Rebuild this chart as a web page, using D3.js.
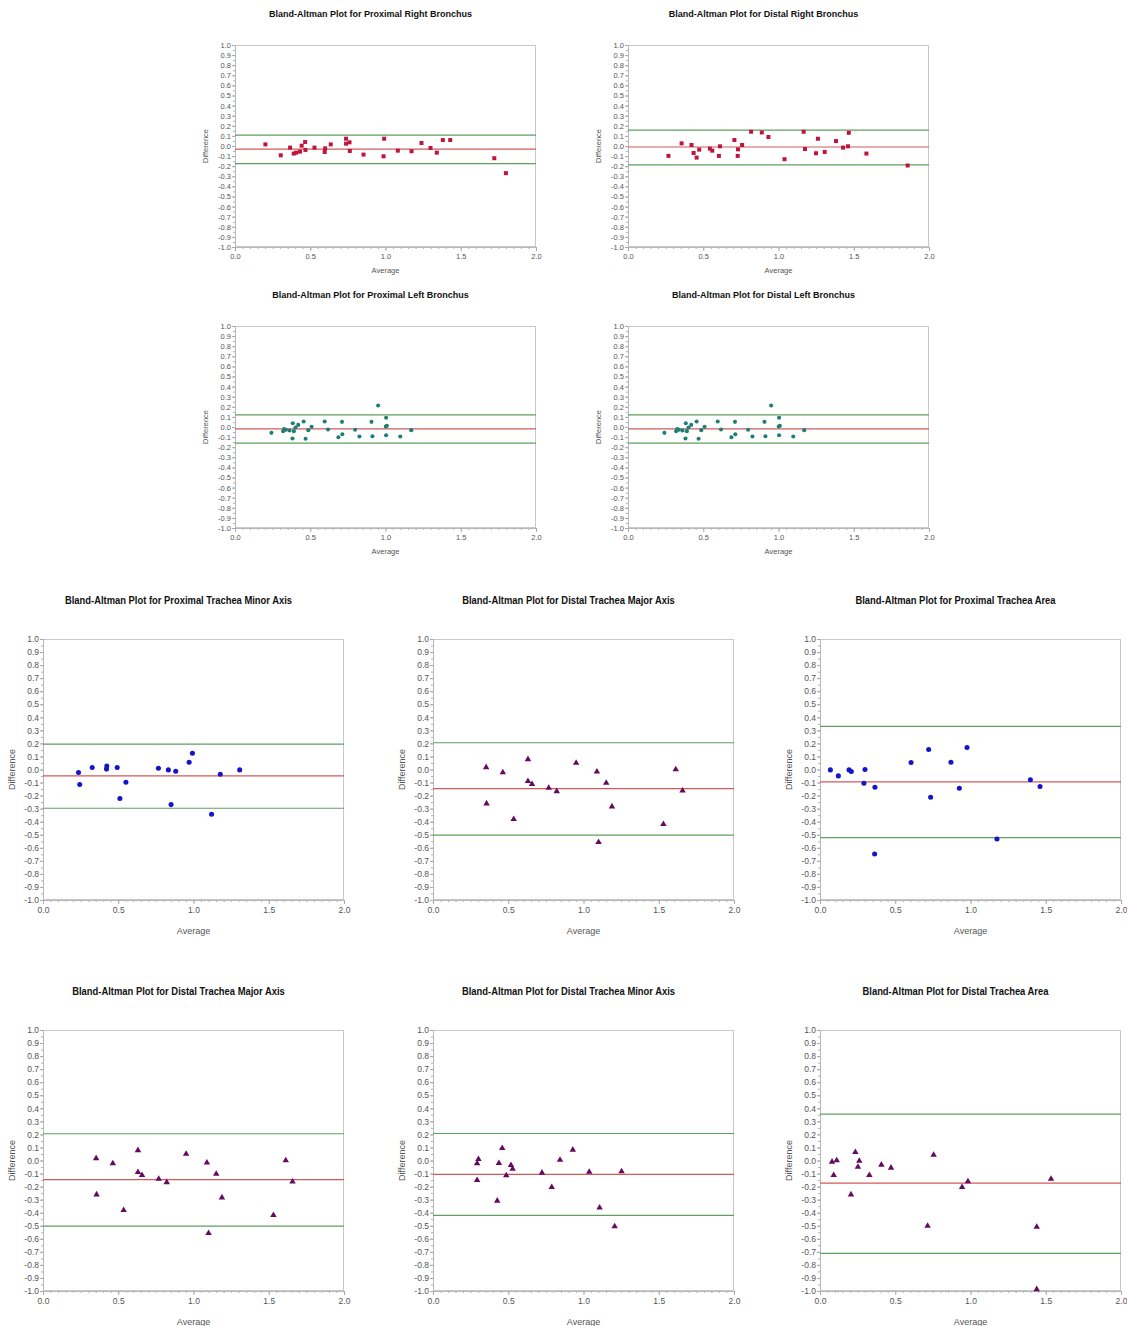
<!DOCTYPE html>
<html>
<head>
<meta charset="utf-8">
<script src="https://cdn.jsdelivr.net/npm/d3@7"></script>
<style>
  body { margin: 0; background: #fff; }
  svg { display: block; }
  text { font-family: "Liberation Sans", Arial, sans-serif; }
</style>
</head>
<body>
<svg id="chart" width="1127" height="1326"></svg>
<script>
// [average, difference] pairs
const proximalRightBronchus = [
  [0.202, 0.016], [0.304, -0.092], [0.366, -0.016], [0.390, -0.075], [0.406, -0.066],
  [0.432, -0.056], [0.443, 0.003], [0.466, 0.039], [0.468, -0.039], [0.528, -0.016],
  [0.596, -0.059], [0.599, -0.023], [0.636, 0.016], [0.738, 0.072], [0.738, 0.023],
  [0.761, 0.036], [0.763, -0.049], [0.854, -0.085], [0.991, 0.072], [0.987, -0.102],
  [1.082, -0.046], [1.173, -0.052], [1.239, 0.030], [1.299, -0.020], [1.341, -0.066],
  [1.381, 0.059], [1.430, 0.059], [1.723, -0.121], [1.800, -0.269]
];
const distalRightBronchus = [
  [0.269, -0.098], [0.356, 0.026], [0.422, 0.010], [0.436, -0.069], [0.456, -0.115],
  [0.473, -0.036], [0.544, -0.026], [0.560, -0.046], [0.604, -0.098], [0.611, -0.003],
  [0.707, 0.059], [0.729, -0.098], [0.731, -0.033], [0.758, 0.010], [0.818, 0.141],
  [0.889, 0.134], [0.933, 0.089], [1.040, -0.131], [1.167, 0.141], [1.176, -0.030],
  [1.249, -0.072], [1.262, 0.072], [1.307, -0.059], [1.382, 0.049], [1.429, -0.016],
  [1.462, -0.003], [1.467, 0.131], [1.584, -0.075], [1.858, -0.193]
];
const proximalLeftBronchus = [
  [0.242, -0.058], [0.320, -0.041], [0.327, -0.021], [0.338, -0.028], [0.362, -0.035],
  [0.384, 0.038], [0.382, -0.114], [0.391, -0.041], [0.402, -0.005], [0.420, 0.021],
  [0.456, 0.055], [0.469, -0.117], [0.487, -0.031], [0.509, 0.002], [0.596, 0.055],
  [0.618, -0.025], [0.687, -0.101], [0.711, 0.051], [0.713, -0.071], [0.798, -0.028],
  [0.827, -0.094], [0.907, 0.051], [0.913, -0.091], [0.951, 0.213], [1.004, 0.091],
  [1.002, 0.005], [1.009, 0.012], [1.004, -0.081], [1.098, -0.094], [1.171, -0.031]
];
// the distal left plot shows the same points as the proximal left one
const distalLeftBronchus = proximalLeftBronchus;
const proximalTracheaMinor = [
  [0.236, -0.023], [0.244, -0.115], [0.327, 0.015], [0.422, 0.003], [0.424, 0.026],
  [0.493, 0.015], [0.511, -0.223], [0.551, -0.097], [0.767, 0.010], [0.833, -0.003],
  [0.851, -0.269], [0.882, -0.013], [0.971, 0.056], [0.993, 0.125], [1.120, -0.343],
  [1.178, -0.036], [1.307, -0.003]
];
const distalTracheaMajor = [
  [0.353, 0.017], [0.356, -0.261], [0.464, -0.022], [0.536, -0.381], [0.631, 0.078],
  [0.631, -0.090], [0.658, -0.113], [0.769, -0.141], [0.822, -0.167], [0.951, 0.050],
  [1.089, -0.017], [1.100, -0.557], [1.151, -0.103], [1.189, -0.284], [1.531, -0.419],
  [1.613, 0.001], [1.658, -0.162]
];
const proximalTracheaArea = [
  [0.069, -0.003], [0.122, -0.049], [0.193, -0.003], [0.208, -0.015], [0.292, -0.105],
  [0.299, 0.000], [0.365, -0.136], [0.363, -0.647], [0.605, 0.054], [0.722, 0.153],
  [0.735, -0.212], [0.870, 0.056], [0.926, -0.143], [0.977, 0.169], [1.176, -0.532],
  [1.398, -0.079], [1.462, -0.130]
];
const distalTracheaMinor = [
  [0.293, -0.023], [0.302, 0.010], [0.293, -0.151], [0.427, -0.309], [0.438, -0.020],
  [0.460, 0.094], [0.487, -0.115], [0.518, -0.036], [0.529, -0.064], [0.724, -0.094],
  [0.789, -0.204], [0.844, 0.005], [0.929, 0.082], [1.038, -0.087], [1.107, -0.362],
  [1.207, -0.505], [1.253, -0.084]
];
const distalTracheaArea = [
  [0.080, -0.010], [0.091, -0.113], [0.111, 0.000], [0.206, -0.261], [0.235, 0.064],
  [0.252, -0.049], [0.261, -0.003], [0.328, -0.113], [0.408, -0.033], [0.472, -0.056],
  [0.715, -0.501], [0.755, 0.043], [0.944, -0.205], [0.983, -0.161], [1.440, -0.509],
  [1.440, -0.987], [1.535, -0.141]
];

const titles = [
  "Bland-Altman Plot for Proximal Right Bronchus",
  "Bland-Altman Plot for Distal Right Bronchus",
  "Bland-Altman Plot for Proximal Left Bronchus",
  "Bland-Altman Plot for Distal Left Bronchus",
  "Bland-Altman Plot for Proximal Trachea Minor Axis",
  "Bland-Altman Plot for Distal Trachea Major Axis",
  "Bland-Altman Plot for Proximal Trachea Area",
  "Bland-Altman Plot for Distal Trachea Major Axis",
  "Bland-Altman Plot for Distal Trachea Minor Axis",
  "Bland-Altman Plot for Distal Trachea Area"
];
const series = [
  proximalRightBronchus, distalRightBronchus, proximalLeftBronchus, distalLeftBronchus,
  proximalTracheaMinor, distalTracheaMajor, proximalTracheaArea,
  distalTracheaMajor, distalTracheaMinor, distalTracheaArea
];
const meanDiff  = [-0.030, -0.010, -0.018, -0.018, -0.049, -0.146, -0.095, -0.146, -0.107, -0.174];
const upperLoA  = [0.108, 0.157, 0.121, 0.121, 0.194, 0.205, 0.330, 0.205, 0.207, 0.355];
const lowerLoA  = [-0.174, -0.187, -0.160, -0.160, -0.297, -0.503, -0.522, -0.503, -0.421, -0.711];
const markerKind = ["square", "square", "dot", "dot", "bigdot", "triangle", "bigdot", "triangle", "triangle", "triangle"];

const xTicks = [0, 0.5, 1, 1.5, 2];
const yTicks = d3.range(-10, 11).map(d => d / 10);

// plot rectangles (left, top, width, height)
const small = { w: 301, h: 202 }, big = { w: 301, h: 261 };
const layout = [
  { l: 235, t: 45, s: small }, { l: 628, t: 45, s: small },
  { l: 235, t: 326, s: small }, { l: 628, t: 326, s: small },
  { l: 43, t: 639, s: big }, { l: 433, t: 639, s: big }, { l: 820, t: 639, s: big },
  { l: 43, t: 1030, s: big }, { l: 433, t: 1030, s: big }, { l: 820, t: 1030, s: big }
];

const markers = {
  square:   { type: d3.symbolSquare, size: 16, fill: "#c0143c" },
  dot:      { type: d3.symbolCircle, size: 13, fill: "#1b7f72" },
  bigdot:   { type: d3.symbolCircle, size: 20, fill: "#1414c8" },
  triangle: { type: d3.symbolTriangle, size: 18, fill: "#650a5e" }
};

const svg = d3.select("#chart");

layout.forEach((p, i) => {
  const w = p.s.w, h = p.s.h;
  const isBig = h > 220;
  const g = svg.append("g").attr("transform", `translate(${p.l},${p.t})`);

  const x = d3.scaleLinear().domain([0, 2]).range([0, w]);
  const y = d3.scaleLinear().domain([-1, 1]).range([h, 0]);

  // frame
  g.append("rect")
    .attr("x", 0.5).attr("y", 0.5)
    .attr("width", w - 1).attr("height", h - 1)
    .attr("fill", "none").attr("stroke", "#c8c8c8");

  const tickFont = isBig ? 8.5 : 7.5;

  // minor ticks
  const xMinor = g.append("g").attr("transform", `translate(0,${h})`)
    .call(d3.axisBottom(x).tickValues(d3.range(0, 41).map(d => d / 20)).tickSize(2).tickFormat(""));
  const yMinor = g.append("g")
    .call(d3.axisLeft(y).tickValues(d3.range(-20, 21).map(d => d / 20)).tickSize(2).tickFormat(""));
  [xMinor, yMinor].forEach(a => {
    a.select(".domain").remove();
    a.selectAll("line").attr("stroke", "#b0b0b0");
  });

  const xAxis = g.append("g").attr("transform", `translate(0,${h})`)
    .call(d3.axisBottom(x).tickValues(xTicks).tickSize(4).tickPadding(3).tickFormat(d3.format(".1f")));
  const yAxis = g.append("g")
    .call(d3.axisLeft(y).tickValues(yTicks).tickSize(3).tickPadding(1).tickFormat(d3.format(".1f")));
  [xAxis, yAxis].forEach(a => {
    a.select(".domain").attr("stroke", "#b8b8b8");
    a.selectAll("line").attr("stroke", "#a8a8a8");
    a.selectAll("text")
      .attr("fill", "#555")
      .style("font-size", tickFont + "px");
  });
  yAxis.selectAll("text").text(d => d3.format(".1f")(d).replace("−", "-"));

  // reference lines: limits of agreement and mean difference
  [[upperLoA[i], "#5f9f5f"], [lowerLoA[i], "#5f9f5f"], [meanDiff[i], "#d05a5a"]].forEach(([v, c]) => {
    g.append("line")
      .attr("x1", 0).attr("x2", w)
      .attr("y1", y(v)).attr("y2", y(v))
      .attr("stroke", c).attr("stroke-width", 1.2);
  });

  const m = markers[markerKind[i]];
  g.selectAll("path.pt")
    .data(series[i])
    .join("path")
    .attr("class", "pt")
    .attr("transform", d => `translate(${x(d[0])},${y(d[1])})`)
    .attr("d", d3.symbol().type(m.type).size(m.size))
    .attr("fill", m.fill);

  // title (the large panels use a condensed face, so squeeze it horizontally)
  g.append("text")
    .attr("transform", `translate(${w / 2 - 15},${isBig ? -35 : -28}) scale(${isBig ? 0.855 : 1},1)`)
    .attr("text-anchor", "middle")
    .style("font-weight", "bold")
    .style("font-size", isBig ? "11px" : "9px")
    .attr("fill", "#111")
    .text(titles[i]);

  g.append("text")
    .attr("x", w / 2)
    .attr("y", h + (isBig ? 34 : 26))
    .attr("text-anchor", "middle")
    .style("font-size", isBig ? "9px" : "7.5px")
    .attr("fill", "#555")
    .text("Average");

  g.append("text")
    .attr("transform", `translate(${isBig ? -28 : -27},${h / 2}) rotate(-90)`)
    .attr("text-anchor", "middle")
    .style("font-size", isBig ? "9px" : "7.5px")
    .attr("fill", "#555")
    .text("Difference");
});
</script>
</body>
</html>
